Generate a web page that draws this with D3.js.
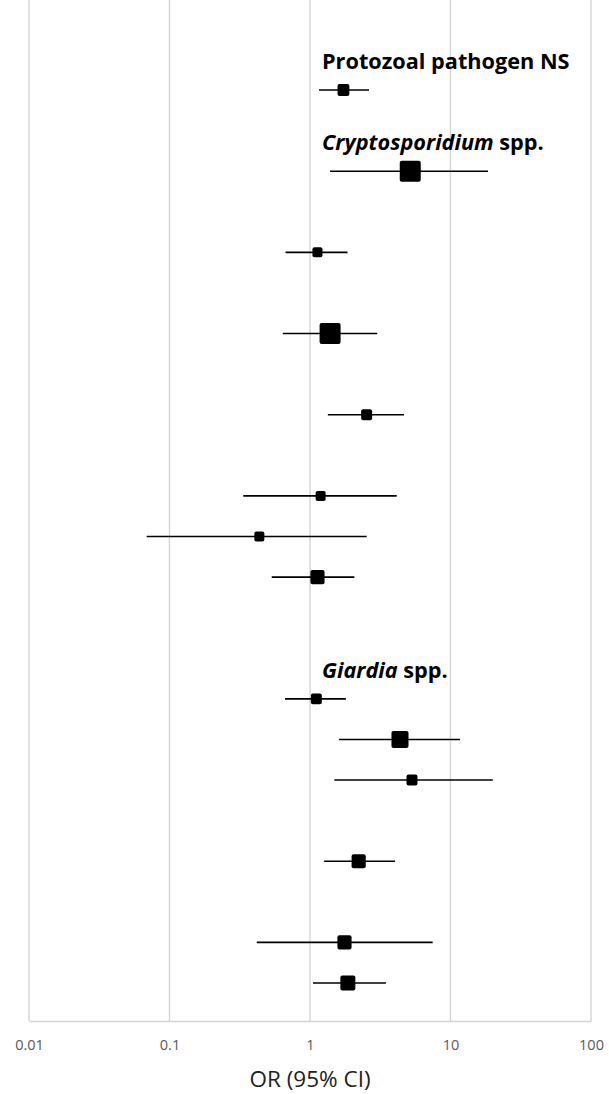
<!DOCTYPE html>
<html>
<head>
<meta charset="utf-8">
<script src="https://cdn.jsdelivr.net/npm/d3@7/dist/d3.min.js"></script>
<style>
  html, body { margin: 0; padding: 0; background: #fff; }
  svg { display: block; }
</style>
</head>
<body>
<script>
// ---------------- DATA ----------------
const groups = [
  { label: "Protozoal pathogen NS", italic: "", rest: "Protozoal pathogen NS", slot: 0 },
  { label: "Cryptosporidium spp.", italic: "Cryptosporidium", rest: " spp.", slot: 2 },
  { label: "Giardia spp.", italic: "Giardia", rest: " spp.", slot: 15 }
];
const rowSlots = [0, 2, 4, 6, 8, 10, 11, 12, 15, 16, 17, 19, 21, 22];
const orValues = [1.73, 5.17, 1.13, 1.39, 2.53, 1.19, 0.436, 1.13, 1.11, 4.37, 5.32, 2.22, 1.76, 1.86];
const ciLower  = [1.16, 1.39, 0.67, 0.64, 1.34, 0.335, 0.0688, 0.534, 0.664, 1.61, 1.49, 1.26, 0.418, 1.05];
const ciUpper  = [2.63, 18.5, 1.85, 3.01, 4.67, 4.14, 2.53, 2.07, 1.80, 11.7, 20.0, 4.03, 7.47, 3.47];
const weights  = [1.4, 4.4, 1.0, 4.4, 1.2, 1.0, 1.0, 2.0, 1.2, 2.9, 1.2, 2.0, 2.0, 2.25];
const xTickValues = [0.01, 0.1, 1, 10, 100];
const xTickLabels = ["0.01", "0.1", "1", "10", "100"];
const xAxisTitle = "OR (95% CI)";

// ---------------- LAYOUT ----------------
const W = 609, H = 1094;
const plotLeft = 29, plotRight = 591, plotTop = 0, plotBottom = 1021;

const svg = d3.select("body").append("svg")
  .attr("width", W).attr("height", H)
  .style("font-family", "'Open Sans', 'Noto Sans', sans-serif");

const x = d3.scaleLog().domain([0.01, 100]).range([plotLeft, plotRight]);
const y = d3.scaleLinear().domain([0, 22]).range([90, 983]);
const size = d3.scaleSqrt().domain([0, 4.4]).range([0, 21]);

// gridlines
svg.append("g").selectAll("line").data(xTickValues).join("line")
  .attr("x1", d => x(d)).attr("x2", d => x(d))
  .attr("y1", plotTop).attr("y2", plotBottom)
  .attr("stroke", "#d4d4d4").attr("stroke-width", 1.4);

// x axis
const axis = d3.axisBottom(x)
  .tickValues(xTickValues)
  .tickFormat((d, i) => xTickLabels[i])
  .tickSize(0)
  .tickPadding(19);
const gx = svg.append("g").attr("transform", `translate(0,${plotBottom})`).call(axis);
gx.select(".domain").attr("stroke", "#d4d4d4").attr("stroke-width", 1.4);
gx.selectAll("text")
  .attr("fill", "#595959")
  .style("font-size", "14.5px")
  .style("font-family", "'Open Sans', sans-serif");

// axis title
svg.append("text")
  .attr("x", (plotLeft + plotRight) / 2)
  .attr("y", 1087)
  .attr("text-anchor", "middle")
  .attr("fill", "#222")
  .style("font-size", "22.5px")
  .text(xAxisTitle);

// group titles
const gt = svg.append("g").selectAll("text").data(groups).join("text")
  .attr("x", 322)
  .attr("y", d => y(d.slot) - 21)
  .attr("fill", "#000")
  .style("font-size", "21.7px")
  .style("font-weight", "bold");
gt.each(function(d) {
  const t = d3.select(this);
  if (d.italic) {
    t.append("tspan").style("font-style", "italic").text(d.italic);
    t.append("tspan").text(d.rest);
  } else {
    t.text(d.rest);
  }
});

// rows
const rows = rowSlots.map((s, i) => ({ slot: s, or: orValues[i], lo: ciLower[i], hi: ciUpper[i], w: weights[i] }));

svg.append("g").selectAll("line").data(rows).join("line")
  .attr("x1", d => x(d.lo)).attr("x2", d => x(d.hi))
  .attr("y1", d => y(d.slot)).attr("y2", d => y(d.slot))
  .attr("stroke", "#000").attr("stroke-width", 1.6);

svg.append("g").selectAll("rect").data(rows).join("rect")
  .attr("x", d => x(d.or) - size(d.w) / 2)
  .attr("y", d => y(d.slot) - size(d.w) / 2)
  .attr("width", d => size(d.w))
  .attr("height", d => size(d.w))
  .attr("rx", 2).attr("ry", 2)
  .attr("fill", "#000");
</script>
</body>
</html>
